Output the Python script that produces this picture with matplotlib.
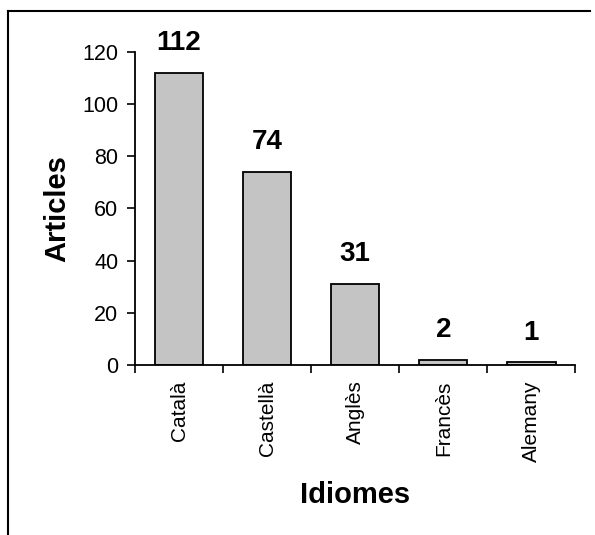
import matplotlib
matplotlib.use("Agg")
import matplotlib.pyplot as plt
from matplotlib.lines import Line2D

idiomes = ["Català", "Castellà", "Anglès", "Francès", "Alemany"]
articles = [112, 74, 31, 2, 1]
y_ticks = [0, 20, 40, 60, 80, 100, 120]

plt.rcParams["font.family"] = ["Liberation Sans", "DejaVu Sans"]

fig = plt.figure(figsize=(5.95, 5.35), dpi=100)
ax = fig.add_axes([0.227, 0.318, 0.740, 0.585])

x = list(range(len(idiomes)))
bars = ax.bar(x, articles, width=0.55, color="#c4c4c4", edgecolor="black", linewidth=1.3)

for xi, v in zip(x, articles):
    ax.annotate(str(v), (xi, v), xytext=(0, 12), textcoords="offset points",
                ha="center", va="bottom", fontsize=20, fontweight="bold")

ax.set_xlim(-0.5, len(idiomes) - 0.5)
ax.set_ylim(0, 120)
ax.set_yticks(y_ticks)
ax.tick_params(axis="y", labelsize=15.5, length=6, width=1.2, pad=6)

ax.set_xticks(x)
ax.set_xticklabels(idiomes, rotation=90, fontsize=15)
ax.tick_params(axis="x", which="major", length=0, pad=11)
ax.set_xticks([i - 0.5 for i in range(len(idiomes) + 1)], minor=True)
ax.tick_params(axis="x", which="minor", length=6, width=1.2)

for s in ["top", "right"]:
    ax.spines[s].set_visible(False)
for s in ["left", "bottom"]:
    ax.spines[s].set_linewidth(1.3)

ax.set_ylabel("Articles", fontsize=21, fontweight="bold", labelpad=8)
ax.set_xlabel("Idiomes", fontsize=21, fontweight="bold", labelpad=14)

# scanned frame around the chart
fig.add_artist(Line2D([8 / 595, 8 / 595], [0, 1 - 11 / 535], color="black", lw=1.5,
                      transform=fig.transFigure))
fig.add_artist(Line2D([8 / 595, 590 / 595], [1 - 11 / 535, 1 - 11 / 535], color="black",
                      lw=1.5, transform=fig.transFigure))

fig.savefig("out.png", dpi=100)
